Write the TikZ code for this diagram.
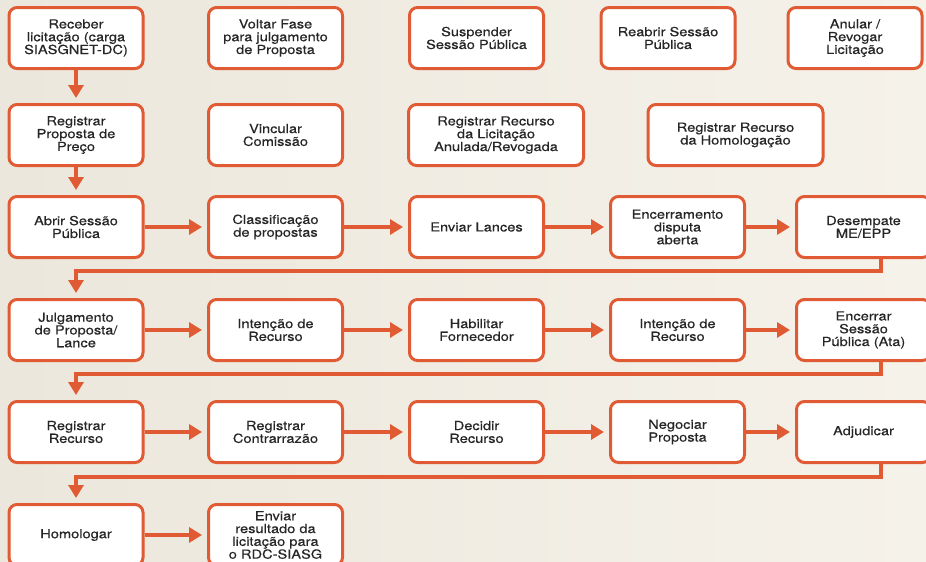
\documentclass[tikz,border=0pt]{standalone}
\usepackage{fontspec}
\setmainfont{TeX Gyre Heros}[FakeStretch=1.17,FakeBold=0.35]
\usetikzlibrary{arrows.meta}
\definecolor{orng}{HTML}{E05A33}
\definecolor{txt}{HTML}{262626}
\definecolor{bgl}{HTML}{ECE7DC}
\definecolor{bgr}{HTML}{F5F2EA}
\begin{document}
\begin{tikzpicture}[x=1pt,y=-1pt,
  box/.style={draw=orng, line width=3pt, fill=white, rounded corners=8pt,
    minimum width=134pt, minimum height=61pt, inner sep=0pt, align=center,
    text=txt, font=\fontsize{12.5}{12.8}\selectfont},
  wide/.style={box, minimum width=175pt},
  arr/.style={draw=orng, line width=3.2pt, -{Triangle[length=13pt,width=15pt]}, shorten >=5pt},
  link/.style={draw=orng, line width=3.2pt}]
\useasboundingbox (0,0) rectangle (926,562);
\clip (0,0) rectangle (926,562);
\fill[left color=bgl, right color=bgr] (0,0) rectangle (926,562);

% row 1
\node[box] (receber) at (76,38) {Receber\\licitação (carga\\SIASGNET-DC)};
\node[box] (voltar) at (275.5,38) {Voltar Fase\\para julgamento\\de Proposta};
\node[box] (suspender) at (476.5,38) {Suspender\\Sessão Pública};
\node[box] (reabrir) at (668,38) {Reabrir Sessão\\Pública};
\node[box] (anular) at (855,38) {Anular /\\Revogar\\Licitação};
% row 2
\node[box] (regprop) at (76,135) {Registrar\\Proposta de\\Preço};
\node[box] (vincular) at (275.5,135) {Vincular\\Comissão};
\node[wide] (reclic) at (496,135) {Registrar Recurso\\da Licitação\\Anulada/Revogada};
\node[wide] (rechom) at (735.5,135) {Registrar Recurso\\da Homologação};
% row 3
\node[box] (abrir) at (76,227) {Abrir Sessão\\Pública};
\node[box] (classif) at (275.5,227) {Classificação\\de propostas};
\node[box] (lances) at (476.5,227) {Enviar Lances};
\node[box] (encdisp) at (677.5,227) {Encerramento\\disputa\\aberta};
\node[box] (desemp) at (863.5,227) {Desempate\\ME/EPP};
% row 4
\node[box] (julg) at (76,330) {Julgamento\\de Proposta/\\Lance};
\node[box] (intrec) at (275.5,330) {Intenção de\\Recurso};
\node[box] (habil) at (476.5,330) {Habilitar\\Fornecedor};
\node[box] (intrec2) at (677.5,330) {Intenção de\\Recurso};
\node[box] (encsess) at (863.5,330) {Encerrar\\Sessão\\Pública (Ata)};
% row 5
\node[box] (regrec) at (76,432) {Registrar\\Recurso};
\node[box] (contra) at (275.5,432) {Registrar\\Contrarrazão};
\node[box] (decidir) at (476.5,432) {Decidir\\Recurso};
\node[box] (negoc) at (677.5,432) {Negociar\\Proposta};
\node[box] (adjud) at (863.5,432) {Adjudicar};
% row 6
\node[box] (homol) at (76,535) {Homologar};
\node[box] (enviar) at (275.5,535) {Enviar\\resultado da\\licitação para\\o RDC-SIASG};

% vertical arrows
\draw[arr] (receber) -- (regprop);
\draw[arr] (regprop) -- (abrir);
% row 3
\draw[arr] (abrir) -- (classif);
\draw[arr] (classif) -- (lances);
\draw[arr] (lances) -- (encdisp);
\draw[arr] (encdisp) -- (desemp);
% row 4
\draw[arr] (julg) -- (intrec);
\draw[arr] (intrec) -- (habil);
\draw[arr] (habil) -- (intrec2);
\draw[arr] (intrec2) -- (encsess);
% row 5
\draw[arr] (regrec) -- (contra);
\draw[arr] (contra) -- (decidir);
\draw[arr] (decidir) -- (negoc);
\draw[arr] (negoc) -- (adjud);
% row 6
\draw[arr] (homol) -- (enviar);

% row transitions
\coordinate (t1) at (881,271);
\coordinate (t2) at (881,374);
\coordinate (t3) at (881,477);
\draw[arr] (desemp.south -| t1) -- (t1) -| (julg.north);
\draw[arr] (encsess.south -| t2) -- (t2) -| (regrec.north);
\draw[arr] (adjud.south -| t3) -- (t3) -| (homol.north);
\end{tikzpicture}
\end{document}
